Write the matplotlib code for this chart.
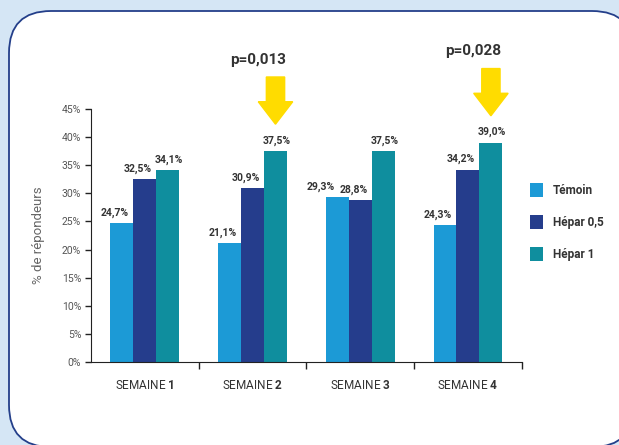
import matplotlib
matplotlib.use("Agg")
import matplotlib.pyplot as plt
import numpy as np
from matplotlib.patches import FancyBboxPatch, FancyArrow

plt.rcParams['font.family'] = ['Roboto', 'DejaVu Sans']
plt.rcParams['mathtext.fontset'] = 'custom'
plt.rcParams['mathtext.rm'] = 'Roboto'
plt.rcParams['mathtext.bf'] = 'Roboto:bold'

# donnees
semaines = ["1", "2", "3", "4"]
series = ["Témoin", "Hépar 0,5", "Hépar 1"]
temoin = [24.7, 21.1, 29.3, 24.3]
hepar05 = [32.5, 30.9, 28.8, 34.2]
hepar1 = [34.1, 37.5, 37.5, 39.0]
pvals = {1: "p=0,013", 3: "p=0,028"}

couleurs = ["#1c9ad6", "#253d8c", "#0f8e9e"]
gris = "#333333"

fig = plt.figure(figsize=(6.19, 4.45), dpi=100)
fig.patch.set_facecolor("#d5e6f5")

# fond + cadre arrondi (en pixels)
fond = fig.add_axes([0, 0, 1, 1], zorder=-5)
fond.set_xlim(0, 619)
fond.set_ylim(445, 0)
fond.axis("off")
fond.add_patch(FancyBboxPatch((9, 11), 625, 436, boxstyle="round,pad=0,rounding_size=42",
                              facecolor="white", edgecolor="#243f8a", linewidth=1.3))

ax = fig.add_axes([0.147, 0.1865, 0.696, 0.5685])
ax.set_facecolor("none")

x = np.arange(len(semaines))
w = 0.213
donnees = [temoin, hepar05, hepar1]
decal = [-5, -5, 1]  # decalage horizontal des etiquettes (points)
for i, (vals, nom) in enumerate(zip(donnees, series)):
    pos = x + (i - 1) * w
    ax.bar(pos, vals, width=w, color=couleurs[i], label=nom)
    for k, (px, v) in enumerate(zip(pos, vals)):
        dx = decal[i]
        if i == 0 and abs(temoin[k] - hepar05[k]) < 2:
            dx -= 7
        ax.annotate(f"{v:.1f}%".replace(".", ","), (px, v), xytext=(dx, 4),
                    textcoords="offset points", ha="center", va="bottom",
                    fontsize=7.5, fontweight="bold", color=gris)

ax.set_xlim(-0.5, 3.5)
ax.set_ylim(0, 45)
ax.set_yticks(range(0, 46, 5))
ax.set_yticklabels([f"{t}%" for t in range(0, 46, 5)])
ax.tick_params(axis="y", labelsize=7.5, labelcolor="#555555", color="#222222",
               length=4, width=1, pad=3)
ax.set_xticks(x)
ax.set_xticklabels([f"SEMAINE $\\mathbf{{{s}}}$" for s in semaines])
ax.tick_params(axis="x", length=0, labelsize=8.5, labelcolor=gris, pad=12)
ax.set_xticks([0.5, 1.5, 2.5, 3.5], minor=True)
ax.tick_params(axis="x", which="minor", length=5, width=1, color="#222222")
ax.spines["top"].set_visible(False)
ax.spines["right"].set_visible(False)
ax.spines["left"].set_color("#222222")
ax.spines["bottom"].set_color("#222222")
ax.set_ylabel("% de répondeurs", fontsize=9.5, color="#666666", labelpad=12)

# fleches jaunes + p
for k, txt in pvals.items():
    haut = max(temoin[k], hepar05[k], hepar1[k])
    pointe = haut + 4.8
    ax.add_patch(FancyArrow(k + w, pointe + 8.4, 0, -8.4, width=0.17, head_width=0.32,
                            head_length=4.0, length_includes_head=True,
                            color="#ffdc00", clip_on=False))
    ax.text(k + 0.05, pointe + 10.2, txt, ha="center", va="bottom", fontsize=11,
            fontweight="bold", color=gris, clip_on=False)

leg = ax.legend(loc="center left", bbox_to_anchor=(0.995, 0.553), frameon=False,
                fontsize=8.5, handlelength=1.1, handleheight=1.4, labelspacing=1.55,
                handletextpad=0.8)
for t in leg.get_texts():
    t.set_color(gris)
    t.set_fontweight("bold")

fig.savefig("out.png", dpi=100, facecolor=fig.get_facecolor())
